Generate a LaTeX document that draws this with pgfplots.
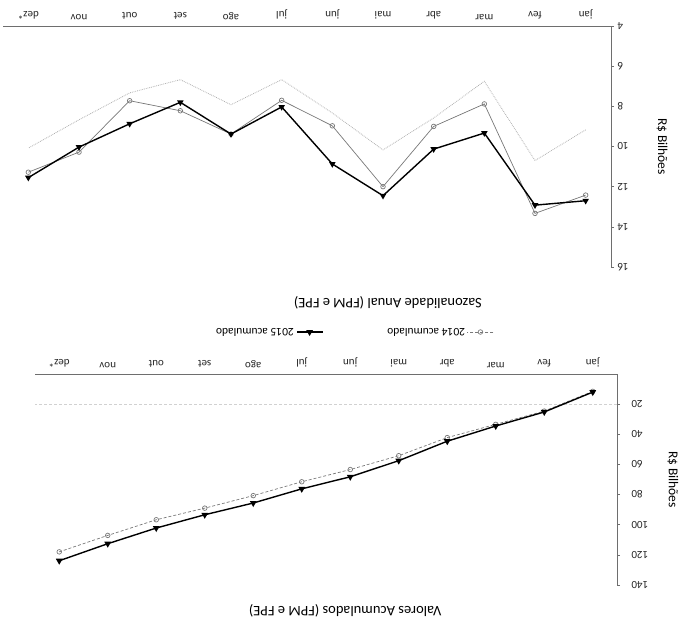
\documentclass[border=0pt]{standalone}
\usepackage{pgfplots}
\pgfplotsset{compat=1.18}
\usepackage{fontspec}
\setmainfont{Carlito}

\definecolor{s14}{RGB}{120,120,120}
\definecolor{s13}{RGB}{175,175,175}
\definecolor{axc}{RGB}{110,110,110}

\pgfplotsset{
  myax/.style={
    scale only axis,
    anchor=south west,
    xmin=-0.5, xmax=11.5,
    axis lines*=left,
    axis line style={axc, line width=0.6pt},
    xtick={0,...,11},
    xticklabels={jan,fev,mar,abr,mai,jun,jul,ago,set,out,nov,dez*},
    x tick style={draw=none},
    minor xtick={-0.5,0.5,...,11.5},
    minor tick length=3pt,
    major tick length=3pt,
    tick align=outside,
    tick style={axc, line width=0.5pt},
    tick label style={font=\fontsize{11}{13}\selectfont, text=black!85},
    /pgf/number format/assume math mode=true,
    ylabel={R\$ Bilhões},
    ylabel style={font=\fontsize{13.5}{15}\selectfont, anchor=center, rotate=0},
    title style={font=\fontsize{14.5}{16}\selectfont, anchor=center},
    clip=false,
  }
}

\begin{document}
\begin{tikzpicture}
\useasboundingbox (0pt,0pt) rectangle (690pt,-629pt);
\begin{scope}[transform canvas={rotate around={180:(345pt,-314.5pt)}}]
% ---------- top: cumulative ----------
\begin{axis}[myax,
  at={(73pt,-255pt)}, width=582pt, height=211pt,
  ymin=0, ymax=140, ytick={20,40,...,140},
  yticklabel style={xshift=-8pt},
  extra y ticks={20}, extra y tick labels={},
  extra y tick style={grid=major, major grid style={black!18, densely dashed, line width=0.5pt}, tick style={draw=none}},
  ylabel style={at={(axis description cs:-0.096,0.5)}},
  title={Valores Acumulados (FPM e FPE)},
  title style={at={(axis description cs:0.467,1.095)}},
  legend style={at={(axis description cs:0.452,-0.199)}, anchor=center, draw=none, fill=none,
    legend columns=2, font=\fontsize{11.5}{13}\selectfont,
    /tikz/every even column/.append style={column sep=62pt}},
  legend cell align=left,
  legend image code/.code={\draw[mark repeat=2,mark phase=2,#1] plot coordinates {(0pt,0pt) (13pt,0pt) (26pt,0pt)};},
]
\addplot[s14, line width=0.7pt, densely dashed, mark=o, mark size=2.3pt, mark options={solid, s14, fill=white}]
  coordinates {(0,11.5) (1,24.6) (2,33.4) (3,42.2) (4,54.2) (5,63.4) (6,71.5) (7,80.7) (8,89.0) (9,96.7) (10,107.1) (11,118.0)};
\addlegendentry{2014 acumulado}
\addplot[black, line width=1.4pt, mark=triangle*, mark size=2.6pt, mark options={solid}]
  coordinates {(0,12.0) (1,25.2) (2,34.5) (3,44.6) (4,57.5) (5,68.2) (6,76.2) (7,85.6) (8,93.4) (9,102.2) (10,112.6) (11,123.9)};
\addlegendentry{2015 acumulado}
\end{axis}
% ---------- bottom: seasonality ----------
\begin{axis}[myax,
  at={(79pt,-603pt)}, width=608pt, height=241pt,
  ymin=4, ymax=16, ytick={4,6,...,16},
  ylabel style={at={(axis description cs:-0.084,0.5)}},
  title={Sazonalidade Anual (FPM e FPE)},
  title style={at={(axis description cs:0.367,1.124)}},
]
\addplot[s13, line width=0.8pt, densely dotted]
  coordinates {(0,9.17) (1,10.7) (2,6.75) (3,8.58) (4,10.17) (5,8.33) (6,6.67) (7,7.92) (8,6.67) (9,7.33) (10,8.67) (11,10.08)};
\addplot[s14, line width=0.7pt, mark=o, mark size=2.3pt, mark options={solid, s14, fill=white}]
  coordinates {(0,12.42) (1,13.33) (2,7.88) (3,9.0) (4,12.0) (5,8.97) (6,7.7) (7,9.38) (8,8.22) (9,7.72) (10,10.28) (11,11.28)};
\addplot[black, line width=1.4pt, mark=triangle*, mark size=2.4pt, mark options={solid}]
  coordinates {(0,12.7) (1,12.92) (2,9.33) (3,10.13) (4,12.45) (5,10.87) (6,8.03) (7,9.38) (8,7.8) (9,8.87) (10,10.03) (11,11.55)};
\end{axis}
\end{scope}
\end{tikzpicture}
\end{document}
